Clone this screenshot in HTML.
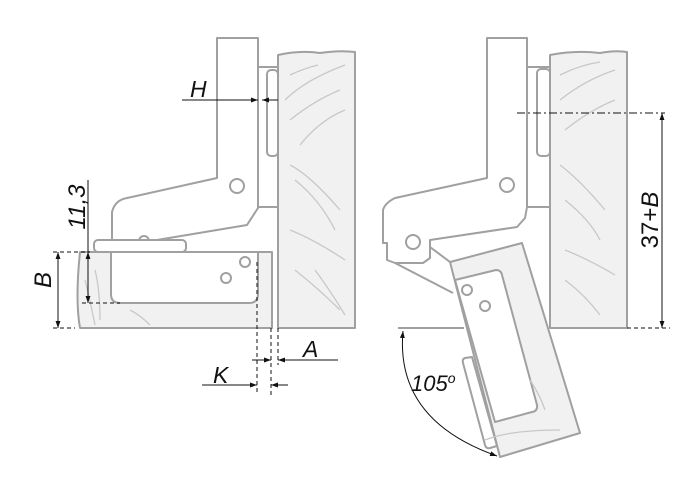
<!DOCTYPE html>
<html><head><meta charset="utf-8"><style>
html,body{margin:0;padding:0;background:#fff;}
svg{display:block;}
text{font-family:"Liberation Sans",sans-serif;font-style:italic;fill:#111;}
</style></head><body>
<svg width="700" height="500" viewBox="0 0 700 500" xmlns="http://www.w3.org/2000/svg">
<defs>
<marker id="ar" viewBox="0 0 10 10" refX="10" refY="5" markerWidth="7" markerHeight="7" orient="auto-start-reverse"><path d="M0,1.5 L10,5 L0,8.5 z" fill="#111"/></marker>
</defs>
<g fill="none" stroke="#a0a0a0" stroke-width="2" stroke-linejoin="round">
<path d="M278,55 Q300,50 320,53 Q340,50 355,52 L355,328 L278,328 Z" fill="#f1f1f1"/>
<path d="M80,252 L272,252 L272,328 L80,328 Q75,300 80,252 Z" fill="#f1f1f1"/>
<path d="M111,252 L258,252 L258,294 Q258,303 249,303 L120,303 Q111,303 111,294 Z" fill="#fff"/>
<rect x="258" y="67" width="20" height="140" fill="#fff"/>
<rect x="267" y="70" width="11" height="86" rx="4" fill="#fff"/>
<path d="M217,38 L258,38 L258,208 L247,225 L157,240 L112,240 L112,212 Q115,200 127,198 L217,178 Z" fill="#fff"/>
<circle cx="144" cy="241" r="5" fill="#fff"/>
<rect x="94" y="240" width="92" height="12" rx="4" fill="#fff"/>
<circle cx="237" cy="186" r="7"/>
<circle cx="245" cy="262" r="5"/>
<circle cx="226" cy="278" r="5"/>
<path d="M550,55 Q575,50 600,53 Q615,50 627,52 L627,328 L550,328 Z" fill="#f1f1f1"/>
<rect x="527" y="67" width="23" height="140" fill="#fff"/>
<rect x="537" y="69" width="13" height="87" rx="4" fill="#fff"/>
<path d="M450,262 L522,243 L580,433 L500,457 Z" fill="#f1f1f1"/>
<path d="M455,280 L496,270 Q501,270 502,275 L537,405 Q538,411 532,412 L495,422 Z" fill="#fff"/>
<path d="M465,358 L472,357 L497,446 L490,448 Q486,449 485,445 L463,363 Q462,359 465,358 Z" fill="#fff"/>
<circle cx="467" cy="290" r="5"/>
<circle cx="485" cy="306" r="5"/>
<path d="M487,38 L527,38 L527,207 L525,218 L517,227 L430,240 L430,258 L423,263 L395,263 L387,260 L387,243 L383,243 L383,210 Q385,203 395,198 L487,178 Z" fill="#fff"/>
<path d="M395,263 L453,293"/>
<path d="M430,247 L450,262"/>
<circle cx="507" cy="185" r="7"/>
<circle cx="413" cy="242" r="7"/>
<path d="M398,328 L464,328"/>
</g>
<g fill="none" stroke="#c8c8c8" stroke-width="1.3">
<path d="M290,75 Q305,68 318,65"/><path d="M285,100 Q305,80 345,65"/><path d="M290,120 Q315,100 340,90"/><path d="M300,145 Q320,120 345,110"/>
<path d="M290,165 Q310,175 340,210"/><path d="M295,180 Q320,200 335,230"/><path d="M290,230 Q315,240 345,260"/><path d="M295,270 Q320,290 340,310"/><path d="M315,270 Q330,290 345,315"/>
<path d="M560,75 Q580,65 600,62"/><path d="M560,100 Q585,80 615,70"/><path d="M565,130 Q590,110 615,100"/><path d="M560,165 Q580,180 605,210"/><path d="M565,200 Q590,220 600,240"/><path d="M565,250 Q590,260 615,275"/><path d="M565,280 Q585,295 600,315"/>
<path d="M95,270 Q100,290 100,320"/><path d="M85,280 Q90,300 95,325"/><path d="M130,310 Q140,315 150,325"/>
<path d="M485,440 Q510,430 560,430"/><path d="M530,380 Q540,395 545,410"/>
</g>
<g stroke="#111" stroke-width="1" fill="none">
<path d="M182,100 L258,100" /><path d="M240,100 L258,100" marker-end="url(#ar)"/><path d="M278,100 L262,100" marker-end="url(#ar)"/>
<path d="M88,180 L88,252"/><path d="M88,270 L88,252" marker-end="url(#ar)"/><path d="M88,270 L88,303" marker-end="url(#ar)"/>
<path d="M58,252 L58,328" marker-start="url(#ar)" marker-end="url(#ar)"/>
<path d="M53,252 L90,252" stroke-dasharray="4,3"/><path d="M53,328 L75,328" stroke-dasharray="4,3"/><path d="M82,303 L120,303" stroke-dasharray="4,3"/>
<path d="M257,262 L257,395" stroke-dasharray="4,3"/><path d="M271,328 L271,395" stroke-dasharray="4,3"/><path d="M278,328 L278,365" stroke-dasharray="4,3"/>
<path d="M252,360 L271,360" marker-end="url(#ar)"/><path d="M338,360 L278,360" marker-end="url(#ar)"/>
<path d="M202,385 L257,385" marker-end="url(#ar)"/><path d="M288,385 L271,385" marker-end="url(#ar)"/>
<path d="M517,113 L665,113" stroke-dasharray="8,3,2,3"/>
<path d="M662,113 L662,328" marker-start="url(#ar)" marker-end="url(#ar)"/>
<path d="M627,328 L670,328" stroke-dasharray="4,3"/>
<path d="M403,331 Q395,420 497,456" marker-start="url(#ar)" marker-end="url(#ar)"/>
</g>
<text x="190" y="97" font-size="23">H</text>
<text x="303" y="357" font-size="23">A</text>
<text x="213" y="383" font-size="23">K</text>
<text transform="translate(51,280) rotate(-90)" font-size="24" text-anchor="middle">B</text>
<text transform="translate(85,207) rotate(-90)" font-size="24" text-anchor="middle">11,3</text>
<text transform="translate(658,220) rotate(-90)" font-size="24" text-anchor="middle" style="font-style:normal">37+<tspan font-style="italic">B</tspan></text>
<text x="411" y="391" font-size="22">105<tspan font-size="14" dy="-8">o</tspan></text>
</svg>
</body></html>
